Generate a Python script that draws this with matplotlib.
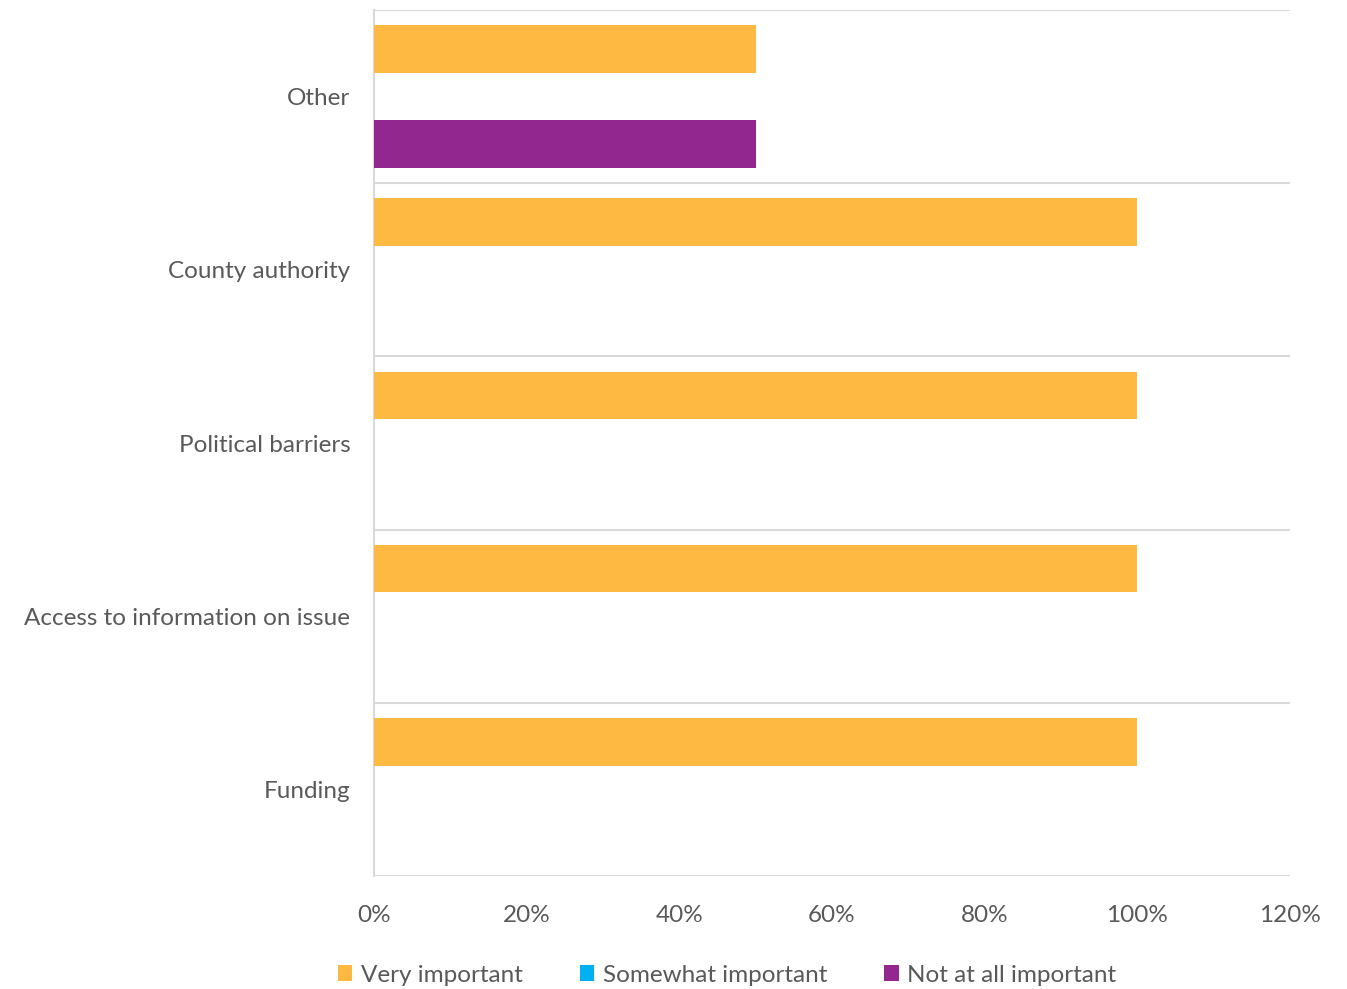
import matplotlib.pyplot as plt
import numpy as np
from matplotlib.ticker import PercentFormatter

plt.rcParams['font.family'] = ['Lato', 'DejaVu Sans']

# Categories bottom to top
categories = ['Funding', 'Access to information on issue', 'Political barriers',
              'County authority', 'Other']
series = ['Very important', 'Somewhat important', 'Not at all important']
very_important = [1.0, 1.0, 1.0, 1.0, 0.5]
somewhat_important = [0.0, 0.0, 0.0, 0.0, 0.0]
not_at_all_important = [0.0, 0.0, 0.0, 0.0, 0.5]
colors = ['#FDB942', '#00B0F0', '#92278F']

fig = plt.figure(figsize=(13.47, 9.89), dpi=100)
ax = fig.add_axes([374 / 1347, 1 - 876 / 989, (1290 - 374) / 1347, (876 - 10) / 989])

y = np.arange(len(categories))
h = 0.275
offsets = [h, 0, -h]
for vals, off, col, name in zip([very_important, somewhat_important, not_at_all_important],
                                offsets, colors, series):
    ax.barh(y + off, vals, height=h, color=col, label=name, zorder=3)

ax.set_xlim(0, 1.2)
ax.set_ylim(-0.5, len(categories) - 0.5)
ax.set_xticks(np.arange(0, 1.21, 0.2))
ax.xaxis.set_major_formatter(PercentFormatter(1.0, decimals=0))
ax.set_yticks(y)
ax.set_yticklabels(categories)

# category borders as horizontal gridlines
for b in np.arange(-0.5, len(categories), 1.0):
    ax.axhline(b, color='#D9D9D9', lw=1.5, zorder=1)

for s in ['top', 'right', 'bottom']:
    ax.spines[s].set_visible(False)
ax.spines['left'].set_color('#D9D9D9')
ax.spines['left'].set_linewidth(1.5)
ax.tick_params(axis='both', length=0, labelsize=17.5, colors='#595959')
ax.tick_params(axis='x', pad=21)
ax.tick_params(axis='y', pad=17)

fig.legend(*ax.get_legend_handles_labels(), loc='center', bbox_to_anchor=(727 / 1347, 1 - 975 / 989),
           ncol=3, frameon=False, fontsize=17.5, handlelength=0.6, handleheight=0.6,
           handletextpad=0.35, columnspacing=2.35, labelcolor='#595959')

fig.savefig('out.png', dpi=100)
